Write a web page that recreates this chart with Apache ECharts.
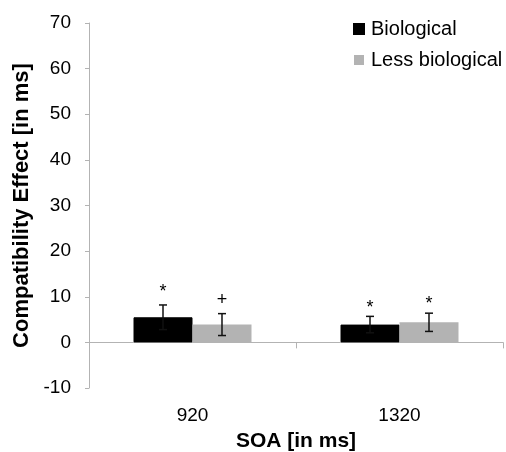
<!DOCTYPE html>
<html><head><meta charset="utf-8">
<script src="https://cdn.jsdelivr.net/npm/echarts@6/dist/echarts.min.js"></script>
<style>html,body{margin:0;padding:0;background:#fff}#c{width:506px;height:452px}</style>
</head><body><div id="c"></div>
<script>
const categories = ['920', '1320'];
const seriesNames = ['Biological', 'Less biological'];
const biological = [5.5, 3.9];
const lessBiological = [3.9, 4.4];
const biologicalErr = [2.7, 1.8];
const lessBiologicalErr = [2.4, 2.0];
const biologicalMarks = ['*', '*'];
const lessBiologicalMarks = ['+', '*'];
const biologicalMarkY = [12.45, 8.84];
const lessBiologicalMarkY = [10.26, 9.71];
const yMin = -10, yMax = 70, yStep = 10;

const FONT = 'Liberation Sans, Arial, sans-serif';
const BAR_FRAC = 0.285;
// pixel shift so the visible glyph (not its em box) is centred on the mark value
const GLYPH_SHIFT = { '*': 6, '+': 4 };

const errData = [];
const marks = [];
categories.forEach((c, i) => {
  errData.push([i, biological[i], biologicalErr[i], 0, biologicalMarkY[i]]);
  marks.push(biologicalMarks[i]);
  errData.push([i, lessBiological[i], lessBiologicalErr[i], 1, lessBiologicalMarkY[i]]);
  marks.push(lessBiologicalMarks[i]);
});

const chart = echarts.init(document.getElementById('c'));
chart.setOption({
  animation: false,
  backgroundColor: '#fff',
  grid: { left: 89, right: 3, top: 23, bottom: 64, containLabel: false, outerBoundsMode: 'none' },
  legend: {
    data: seriesNames,
    orient: 'vertical',
    left: 353, top: 19, padding: 0,
    icon: 'rect', itemWidth: 10, itemHeight: 10, itemGap: 11,
    textStyle: { fontFamily: FONT, fontSize: 20, color: '#000', lineHeight: 19, padding: [0, 0, 0, 2] }
  },
  xAxis: [
    {
      type: 'category', data: categories, position: 'bottom',
      axisLine: { show: true, onZero: true, lineStyle: { color: '#b3b3b3', width: 1 } },
      axisTick: { show: true, alignWithLabel: false, length: 6, lineStyle: { color: '#b3b3b3' } },
      axisLabel: { show: false },
      splitLine: { show: false }
    },
    {
      type: 'category', data: categories, position: 'bottom',
      axisLine: { show: false, onZero: false },
      axisTick: { show: false },
      axisLabel: { show: true, fontFamily: FONT, fontSize: 19, color: '#000', margin: 18 },
      name: 'SOA [in ms]', nameLocation: 'middle', nameGap: 43,
      nameTextStyle: { fontFamily: FONT, fontSize: 21, fontWeight: 'bold', color: '#000' }
    }
  ],
  yAxis: {
    type: 'value', min: yMin, max: yMax, interval: yStep,
    axisLine: { show: true, lineStyle: { color: '#b3b3b3', width: 1 } },
    axisTick: { show: true, length: 4, lineStyle: { color: '#b3b3b3' } },
    axisLabel: { fontFamily: FONT, fontSize: 19, color: '#000', margin: 18 },
    splitLine: { show: false },
    name: 'Compatibility Effect [in ms]', nameLocation: 'middle', nameGap: 56,
    nameTextStyle: { fontFamily: FONT, fontSize: 22, fontWeight: 'bold', color: '#000' }
  },
  series: [
    {
      name: seriesNames[0], type: 'bar', xAxisIndex: 0, data: biological,
      barWidth: (BAR_FRAC * 100) + '%', barGap: '0%',
      itemStyle: { color: '#000', borderColor: '#000', borderWidth: 1 }
    },
    {
      name: seriesNames[1], type: 'bar', xAxisIndex: 0, data: lessBiological,
      barWidth: (BAR_FRAC * 100) + '%', barGap: '0%',
      itemStyle: { color: '#b3b3b3' }
    },
    {
      type: 'custom', xAxisIndex: 0, z: 10, data: errData,
      renderItem: function (params, api) {
        const cat = api.value(0), v = api.value(1), e = api.value(2), s = api.value(3), my = api.value(4);
        const bandW = api.size([1, 0])[0];
        const bw = bandW * BAR_FRAC;
        const cx = api.coord([cat, 0])[0] + (s === 0 ? -bw / 2 : bw / 2);
        const yTop = api.coord([cat, v + e])[1];
        const yBot = api.coord([cat, v - e])[1];
        const mk = marks[params.dataIndex];
        const yMark = api.coord([cat, my])[1] + (GLYPH_SHIFT[mk] || 0);
        const cap = 4;
        const st = { stroke: '#111', lineWidth: 1.5 };
        return {
          type: 'group',
          children: [
            { type: 'line', shape: { x1: cx, y1: yTop, x2: cx, y2: yBot }, style: st },
            { type: 'line', shape: { x1: cx - cap, y1: yTop, x2: cx + cap, y2: yTop }, style: st },
            { type: 'line', shape: { x1: cx - cap, y1: yBot, x2: cx + cap, y2: yBot }, style: st },
            { type: 'text', x: cx, y: yMark, style: { text: mk, fontFamily: FONT, fontSize: 18, fill: '#000', align: 'center', verticalAlign: 'middle' } }
          ]
        };
      }
    }
  ]
});
</script></body></html>
